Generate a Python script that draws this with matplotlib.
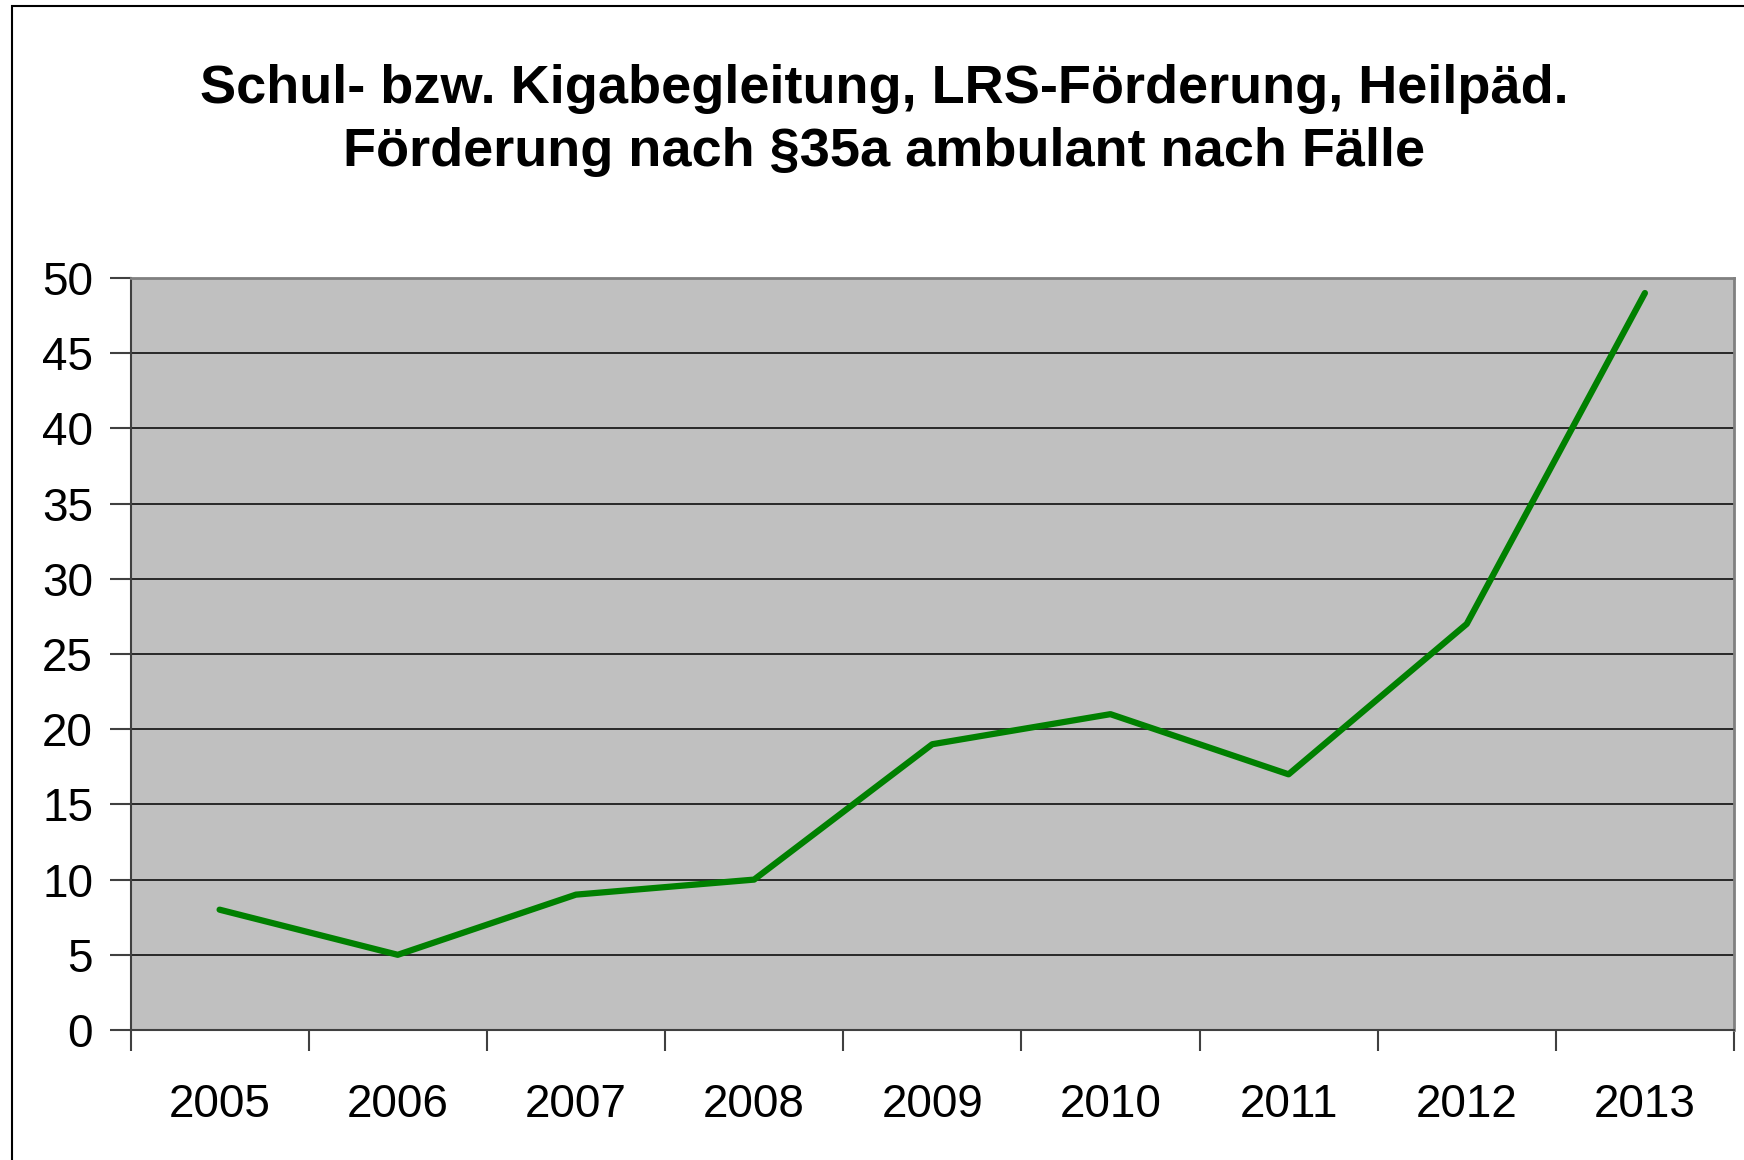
import matplotlib
matplotlib.use("Agg")
import matplotlib.pyplot as plt
from matplotlib.patches import Rectangle

years = ["2005", "2006", "2007", "2008", "2009", "2010", "2011", "2012", "2013"]
cases = [8, 5, 9, 10, 19, 21, 17, 27, 49]
yticks = [0, 5, 10, 15, 20, 25, 30, 35, 40, 45, 50]
title = "Schul- bzw. Kigabegleitung, LRS-Förderung, Heilpäd.\nFörderung nach §35a ambulant nach Fälle"

plt.rcParams['font.family'] = ['Liberation Sans', 'DejaVu Sans']

W, H = 1744, 1160
fig = plt.figure(figsize=(W / 100, H / 100), dpi=100)

# outer frame (only left/top visible)
fig.patches.append(Rectangle((11.5 / W, -0.05), 1.2, 1.05 - 6.5 / H, transform=fig.transFigure,
                             fill=False, edgecolor='black', linewidth=1.5))

left, right, top, bottom = 130.5, 1734, 278, 1030
ax = fig.add_axes([left / W, (H - bottom) / H, (right - left) / W, (bottom - top) / H])
ax.set_facecolor('#c0c0c0')

x = list(range(len(years)))
ax.plot(x, cases, color='#008000', linewidth=4.5, solid_capstyle='round', solid_joinstyle='round', zorder=3)

ax.set_xlim(-0.5, len(years) - 0.5)
ax.set_ylim(0, 50)
ax.set_yticks(yticks)
ax.set_yticklabels([str(v) for v in yticks])
ax.yaxis.grid(True, color='black', linewidth=1.1)
ax.set_axisbelow(True)

ax.set_xticks(x)
ax.set_xticklabels(years)
ax.set_xticks([i - 0.5 for i in range(len(years) + 1)], minor=True)
ax.tick_params(axis='x', which='major', length=0, pad=38, labelsize=33)
ax.tick_params(axis='x', which='minor', length=15, width=1.5, color='#404040')
ax.tick_params(axis='y', which='major', length=15, width=1.5, color='#404040', pad=12, labelsize=33)

for s in ['top', 'right']:
    ax.spines[s].set_color('#808080')
    ax.spines[s].set_linewidth(2)
for s in ['left', 'bottom']:
    ax.spines[s].set_color('#404040')
    ax.spines[s].set_linewidth(1.5)

fig.text(884 / W, 1 - 120.5 / H, title, ha='center', va='center',
         fontsize=39, fontweight='bold', linespacing=1.32)

fig.savefig("out.png", dpi=100)
